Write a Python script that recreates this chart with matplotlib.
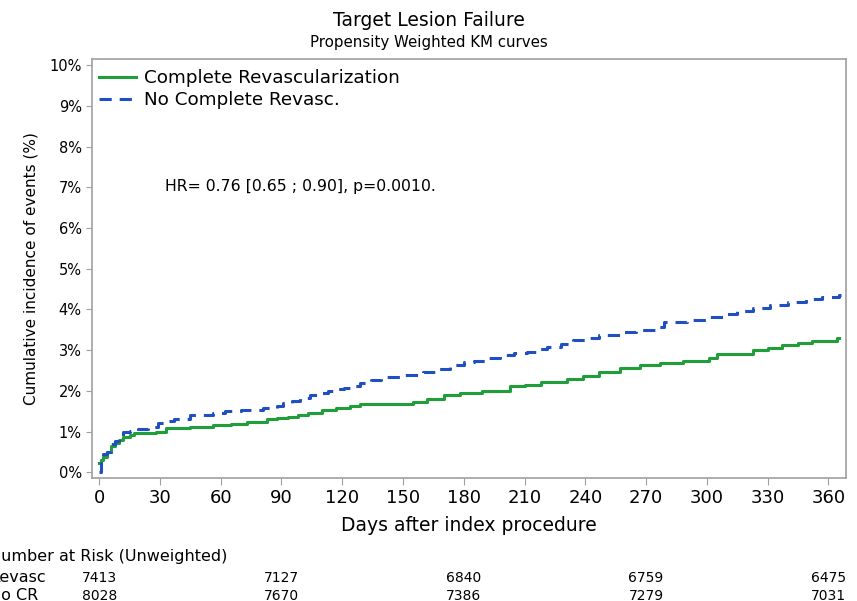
import matplotlib
matplotlib.use("Agg")
import matplotlib.pyplot as plt
import matplotlib.transforms as mtransforms

# KM curves (days, cumulative incidence %)
cr_days = [0, 1, 2, 4, 6, 8, 10, 12, 15, 17, 22, 28, 33, 45, 56, 65, 73, 83, 88, 93,
           98, 103, 110, 117, 124, 129, 140, 155, 162, 170, 178, 189, 203, 210, 218,
           231, 239, 247, 257, 267, 277, 288, 301, 305, 323, 330, 337, 345, 352, 364, 365]
cr_inc = [0.23, 0.30, 0.38, 0.50, 0.65, 0.72, 0.80, 0.87, 0.92, 0.96, 0.97, 0.99, 1.10,
          1.12, 1.16, 1.19, 1.23, 1.30, 1.33, 1.36, 1.42, 1.46, 1.52, 1.58, 1.62, 1.68,
          1.69, 1.73, 1.80, 1.90, 1.96, 2.00, 2.12, 2.15, 2.22, 2.29, 2.37, 2.46, 2.56,
          2.64, 2.68, 2.73, 2.81, 2.90, 3.00, 3.05, 3.13, 3.17, 3.23, 3.30, 3.30]

ncr_days = [0, 1, 2, 4, 6, 8, 10, 12, 15, 19, 24, 29, 33, 37, 45, 56, 62, 70, 81, 88,
            91, 95, 99, 104, 109, 113, 118, 121, 125, 129, 134, 139, 150, 160, 166, 173,
            180, 185, 192, 198, 205, 211, 216, 221, 228, 234, 241, 247, 257, 265, 275,
            279, 290, 300, 308, 315, 323, 331, 340, 349, 357, 365, 366]
ncr_inc = [0.0, 0.38, 0.45, 0.50, 0.70, 0.78, 0.90, 1.00, 1.02, 1.06, 1.12, 1.22, 1.26,
           1.31, 1.41, 1.46, 1.50, 1.54, 1.58, 1.62, 1.70, 1.76, 1.82, 1.90, 1.95, 1.99,
           2.04, 2.07, 2.12, 2.19, 2.27, 2.34, 2.39, 2.46, 2.55, 2.63, 2.70, 2.73, 2.80,
           2.88, 2.92, 2.95, 3.02, 3.08, 3.15, 3.25, 3.30, 3.37, 3.45, 3.50, 3.57, 3.70,
           3.75, 3.82, 3.89, 3.97, 4.04, 4.11, 4.18, 4.25, 4.30, 4.35, 4.35]

# number at risk table
risk_days = [0, 90, 180, 270, 360]
risk_cr = [7413, 7127, 6840, 6759, 6475]
risk_ncr = [8028, 7670, 7386, 7279, 7031]

green = "#1f9e3a"
blue = "#2050c0"
grey = "#a0a0a0"

fig = plt.figure(figsize=(8.57, 6.01), dpi=100)
ax = fig.add_axes([0.1074, 0.2052, 0.8798, 0.6966])

ax.plot(cr_days, cr_inc, drawstyle="steps-post", color=green, lw=2.2,
        label="Complete Revascularization")
ax.plot(ncr_days, ncr_inc, drawstyle="steps-post", color=blue, lw=2.2,
        dashes=(4, 2.6), label="No Complete Revasc.")

ax.set_xlim(-3.5, 368.7)
ax.set_ylim(-0.13, 10.15)
ax.set_xticks(range(0, 361, 30))
ax.set_yticks(range(0, 11))
ax.set_yticklabels([f"{i}%" for i in range(0, 11)])
ax.tick_params(axis="x", labelsize=13, color=grey, length=5)
ax.tick_params(axis="y", labelsize=10.5, color=grey, length=4)
for s in ax.spines.values():
    s.set_color(grey)
    s.set_linewidth(1.2)

ax.set_xlabel("Days after index procedure", fontsize=13.5, labelpad=6)
ax.set_ylabel("Cumulative incidence of events (%)", fontsize=11, labelpad=8)

ax.text(32.5, 7.03, "HR= 0.76 [0.65 ; 0.90], p=0.0010.", fontsize=11.3, va="center")

ax.legend(loc="upper left", frameon=False, fontsize=13.2, handlelength=2.0,
          handletextpad=0.45, borderaxespad=0.1, labelspacing=0.2,
          bbox_to_anchor=(-0.003, 0.997))

fig.text(0.5, 0.966, "Target Lesion Failure", ha="center", va="center", fontsize=13.5)
fig.text(0.5, 0.930, "Propensity Weighted KM curves", ha="center", va="center", fontsize=10.8)

# risk table under the plot
trans = mtransforms.blended_transform_factory(ax.transData, fig.transFigure)
fig.text(-0.0125, 1 - 557 / 601, "Number at Risk (Unweighted)", fontsize=11.5, va="center")
fig.text(-0.0125, 1 - 578 / 601, "Revasc", fontsize=11.5, va="center")
fig.text(-0.0125, 1 - 596 / 601, "No CR", fontsize=11.5, va="center")
for d, a, b in zip(risk_days, risk_cr, risk_ncr):
    fig.text(d, 1 - 578 / 601, str(a), transform=trans, ha="center", va="center", fontsize=10)
    fig.text(d, 1 - 596 / 601, str(b), transform=trans, ha="center", va="center", fontsize=10)

fig.savefig("out.png", dpi=100)
